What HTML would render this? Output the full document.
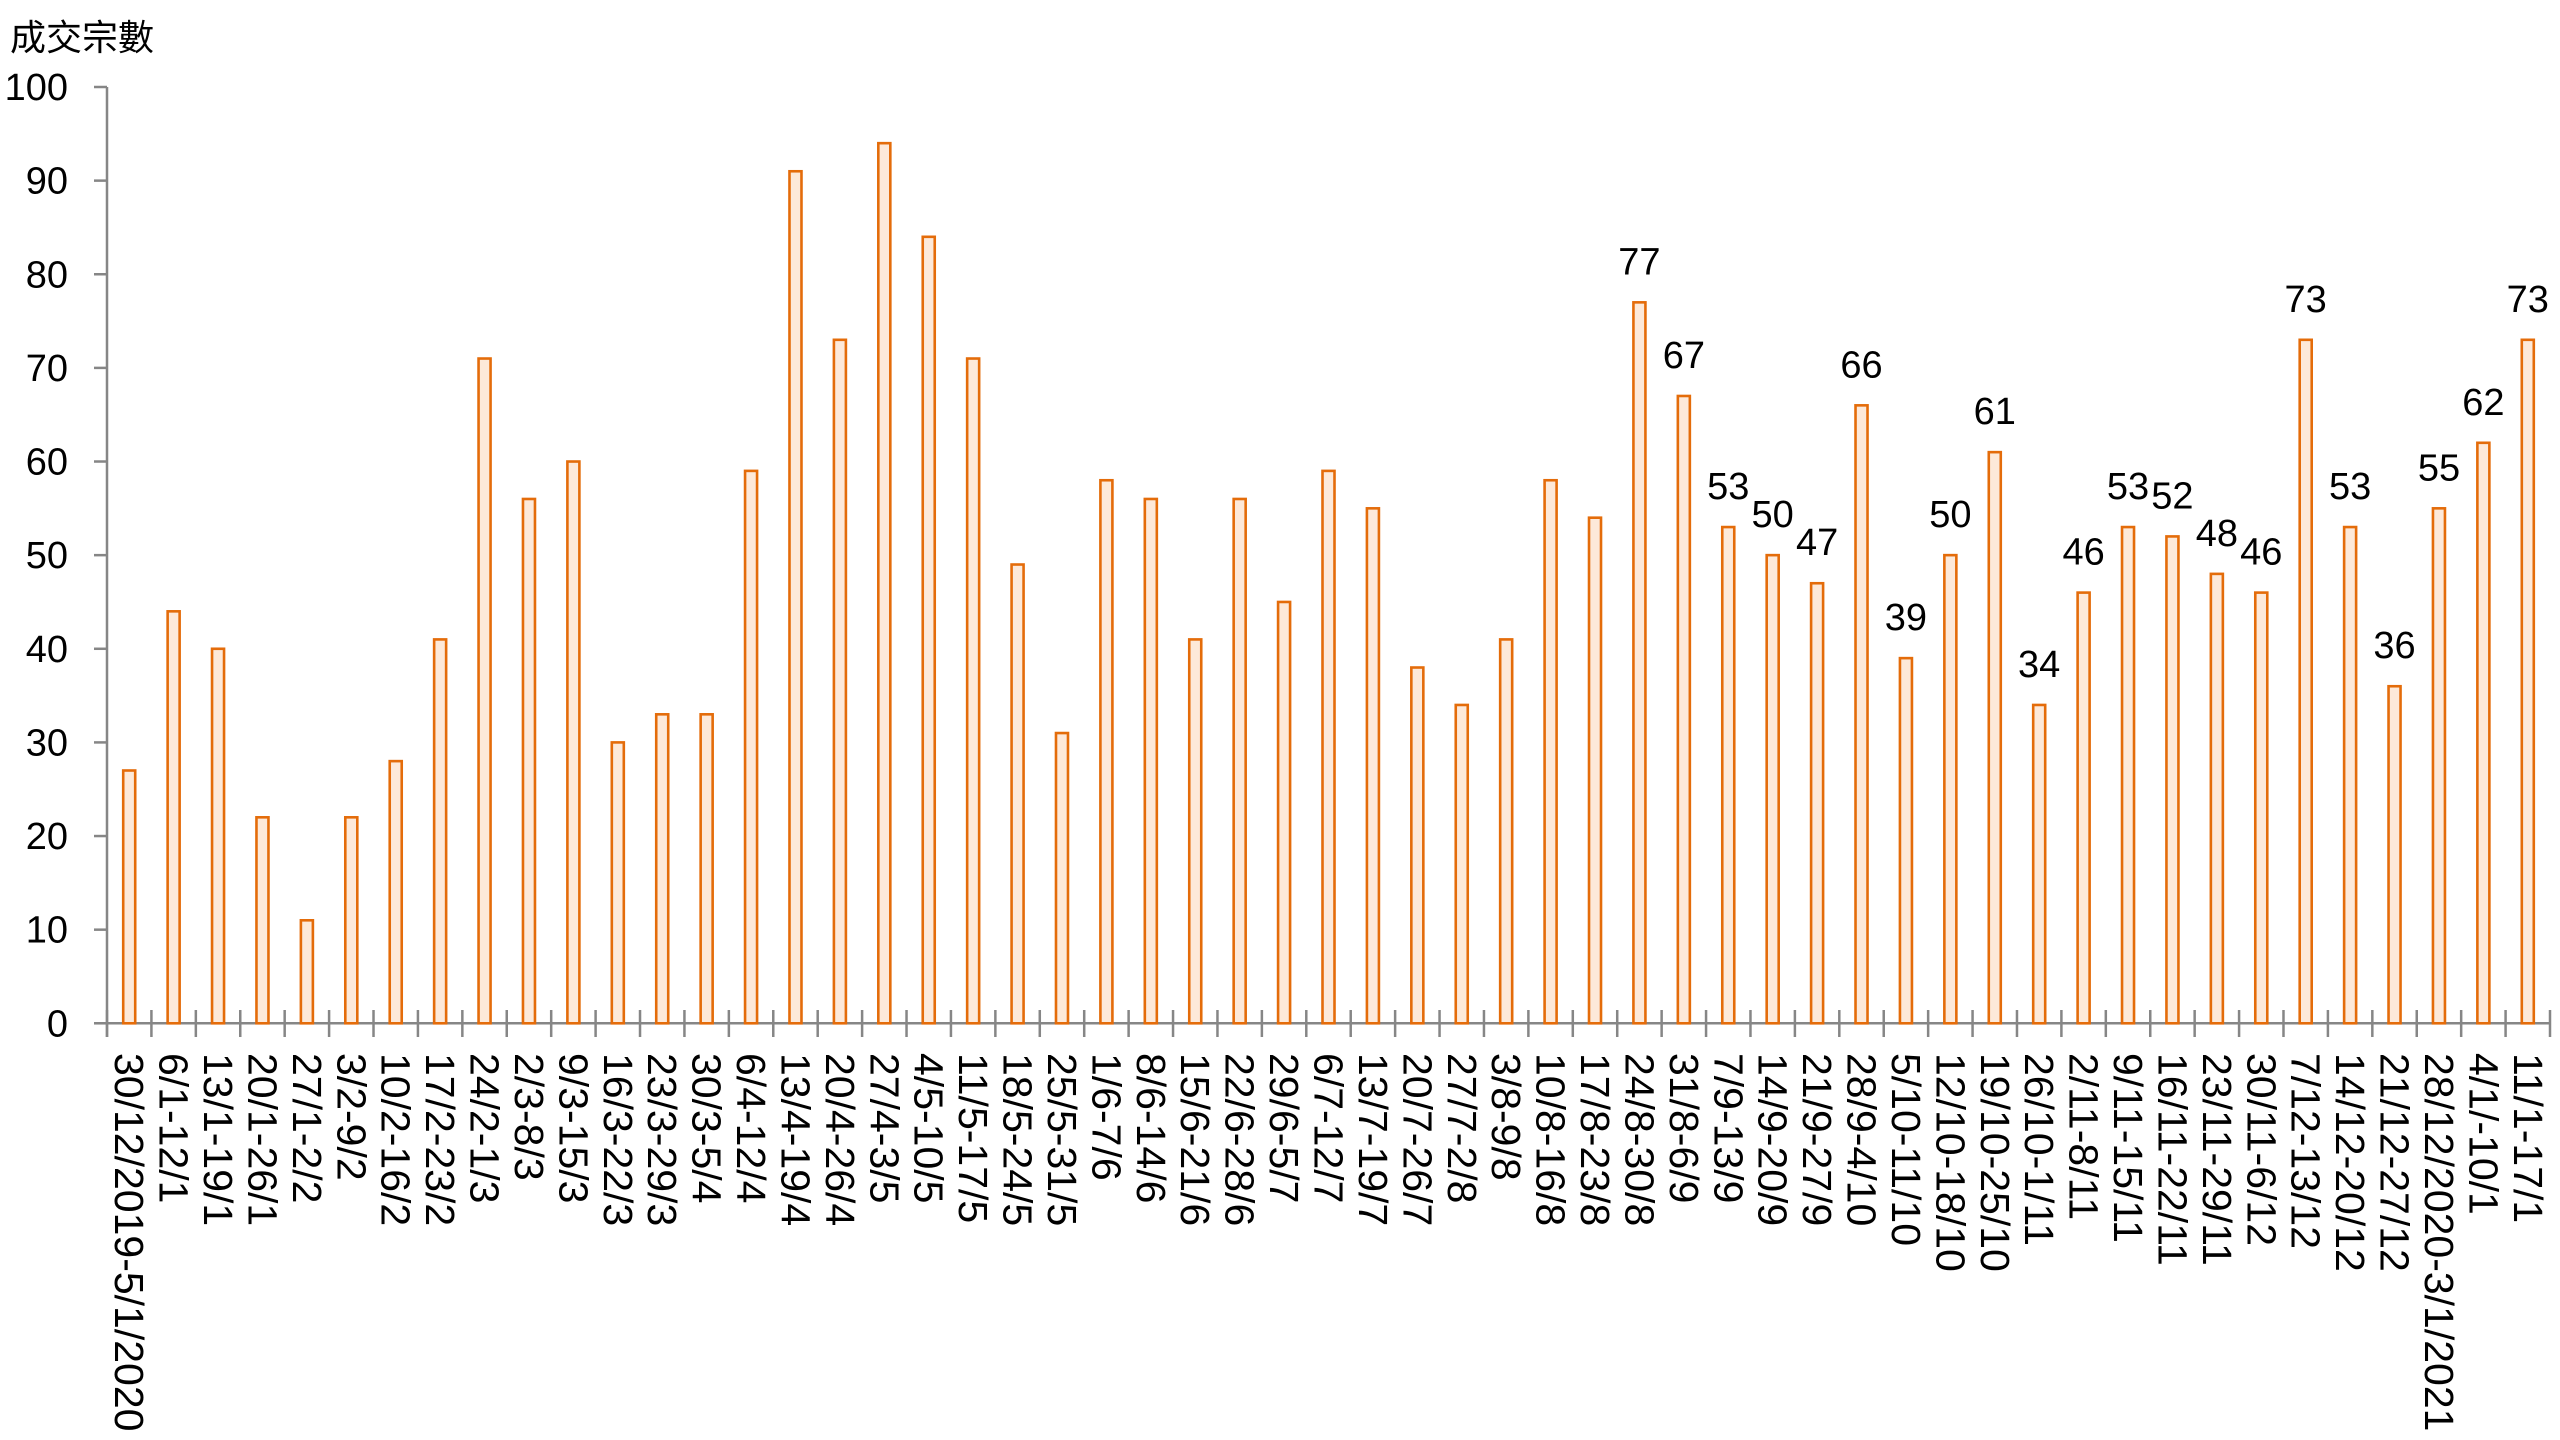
<!DOCTYPE html>
<html><head><meta charset="utf-8"><style>html,body{margin:0;padding:0;background:#fff}svg{display:block}</style></head>
<body>
<svg id="c" width="2560" height="1440" xmlns="http://www.w3.org/2000/svg" font-family="'Liberation Sans','Noto Sans CJK TC',sans-serif"></svg>
<script>
const vals=[27,44,40,22,11,22,28,41,71,56,60,30,33,33,59,91,73,94,84,71,49,31,58,56,41,56,45,59,55,38,34,41,58,54,77,67,53,50,47,66,39,50,61,34,46,53,52,48,46,73,53,36,55,62,73];
const labs=["30/12/2019-5/1/2020","6/1-12/1","13/1-19/1","20/1-26/1","27/1-2/2","3/2-9/2","10/2-16/2","17/2-23/2","24/2-1/3","2/3-8/3","9/3-15/3","16/3-22/3","23/3-29/3","30/3-5/4","6/4-12/4","13/4-19/4","20/4-26/4","27/4-3/5","4/5-10/5","11/5-17/5","18/5-24/5","25/5-31/5","1/6-7/6","8/6-14/6","15/6-21/6","22/6-28/6","29/6-5/7","6/7-12/7","13/7-19/7","20/7-26/7","27/7-2/8","3/8-9/8","10/8-16/8","17/8-23/8","24/8-30/8","31/8-6/9","7/9-13/9","14/9-20/9","21/9-27/9","28/9-4/10","5/10-11/10","12/10-18/10","19/10-25/10","26/10-1/11","2/11-8/11","9/11-15/11","16/11-22/11","23/11-29/11","30/11-6/12","7/12-13/12","14/12-20/12","21/12-27/12","28/12/2020-3/1/2021","4/1/-10/1","11/1-17/1"];
const x0=107,x1=2550,y0=1023.3,k=9.363,n=55,w=(x1-x0)/n;
let s=`<text x="10" y="50" font-size="36">成交宗數</text>`;
s+=`<line x1="${x0}" y1="87" x2="${x0}" y2="1037" stroke="#868686" stroke-width="2.5"/>`;
s+=`<line x1="94" y1="${y0}" x2="${x1}" y2="${y0}" stroke="#868686" stroke-width="2.5"/>`;
for(let v=0;v<=100;v+=10){const y=y0-v*k;s+=`<line x1="94" y1="${y}" x2="${x0}" y2="${y}" stroke="#868686" stroke-width="2.5"/><text x="68" y="${y+13}" font-size="38" text-anchor="end">${v}</text>`;}
for(let i=0;i<=n;i++){const x=x0+i*w;s+=`<line x1="${x}" y1="1010" x2="${x}" y2="1037" stroke="#868686" stroke-width="2.5"/>`;}
vals.forEach((v,i)=>{const cx=x0+(i+0.5)*w,t=y0-v*k;
s+=`<rect x="${cx-6}" y="${t}" width="12" height="${y0-t}" fill="#FDE9D9" stroke="#E46C0A" stroke-width="2.6"/>`;
if(i>=34)s+=`<text x="${cx}" y="${t-28}" font-size="38" text-anchor="middle">${v}</text>`;
s+=`<text x="${cx}" y="1053" font-size="41" dominant-baseline="central" transform="rotate(90 ${cx} 1053)">${labs[i]}</text>`;});
document.getElementById('c').innerHTML=s;
</script>
</body></html>
